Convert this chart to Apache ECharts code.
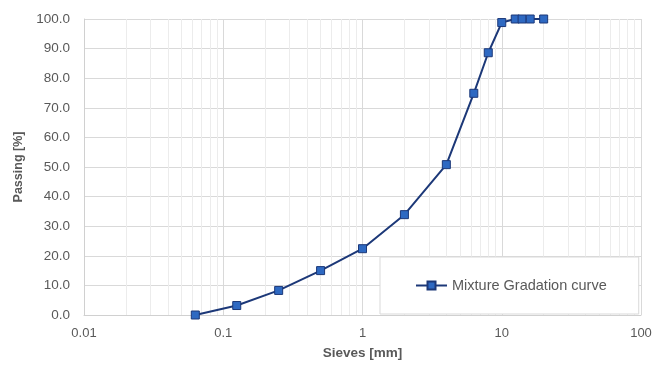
<!DOCTYPE html>
<html>
<head>
<meta charset="utf-8">
<script src="https://cdn.jsdelivr.net/npm/echarts@6/dist/echarts.min.js"></script>
<style>
  html, body { margin: 0; padding: 0; background: #fff; }
  #chart { width: 664px; height: 367px; }
</style>
</head>
<body>
<div id="chart"></div>
<script>
// Sieve sizes [mm] and cumulative passing [%]
const sieves = [0.063, 0.125, 0.25, 0.5, 1, 2, 4, 6.3, 8, 10, 12.5, 14, 16, 20];
const passing = [0.0, 3.2, 8.3, 15.0, 22.4, 33.9, 50.8, 74.9, 88.6, 98.8, 100, 100, 100, 100];
const seriesName = 'Mixture Gradation curve';

// Intermediate log-scale grid values (2..9 within each decade)
const minorGrid = [];
[0.01, 0.1, 1, 10].forEach(function (d) {
  for (let k = 2; k <= 9; k++) minorGrid.push(+(d * k).toPrecision(3));
});

const textColor = '#595959';
const font = 'Liberation Sans';

const chart = echarts.init(document.getElementById('chart'));
chart.setOption({
  animation: false,
  textStyle: { fontFamily: font },
  grid: { left: 84, right: 23, top: 19, bottom: 52 },
  legend: {
    data: [{ name: seriesName }],
    left: 380,
    top: 257,
    z: 10,
    padding: [21, 32, 21, 35],
    itemWidth: 31,
    itemHeight: 10,
    itemGap: 5,
    backgroundColor: '#ffffff',
    borderColor: '#d9d9d9',
    borderWidth: 1,
    textStyle: { color: textColor, fontSize: 14.5, fontFamily: font }
  },
  xAxis: {
    type: 'log',
    logBase: 10,
    min: 0.01,
    max: 100,
    name: 'Sieves [mm]',
    nameLocation: 'middle',
    nameGap: 31,
    nameTextStyle: { color: textColor, fontWeight: 'bold', fontSize: 13.5, fontFamily: font },
    axisLine: { show: true, lineStyle: { color: '#d0d0d0', width: 1 } },
    axisTick: { show: false },
    axisLabel: {
      color: textColor, fontSize: 13, margin: 12,
      formatter: function (v) { return String(+v.toPrecision(3)); }
    },
    splitLine: { show: true, lineStyle: { color: '#d9d9d9', width: 1 } },
    minorTick: { show: false },
    minorSplitLine: { show: false }
  },
  yAxis: {
    type: 'value',
    min: 0,
    max: 100,
    interval: 10,
    name: 'Passing [%]',
    nameLocation: 'middle',
    nameGap: 59,
    nameTextStyle: { color: textColor, fontWeight: 'bold', fontSize: 12.5, fontFamily: font },
    axisLine: { show: true, lineStyle: { color: '#d0d0d0', width: 1 } },
    axisTick: { show: false },
    axisLabel: {
      color: textColor, fontSize: 13.5, margin: 14,
      formatter: function (v) { return v.toFixed(1); }
    },
    splitLine: { show: true, lineStyle: { color: '#d9d9d9', width: 1 } }
  },
  series: [
    {
      // minor vertical grid lines at 2..9 × each decade
      type: 'line',
      data: [],
      silent: true,
      z: 0,
      markLine: {
        silent: true,
        z: 0,
        symbol: ['none', 'none'],
        label: { show: false },
        emphasis: { disabled: true },
        lineStyle: { color: '#ececec', width: 1, type: 'solid' },
        animation: false,
        data: minorGrid.map(function (v) { return { xAxis: v }; })
      }
    },
    {
      name: seriesName,
      type: 'line',
      z: 3,
      data: sieves.map(function (s, i) { return [s, passing[i]]; }),
      symbol: 'rect',
      symbolSize: 8,
      lineStyle: { color: '#1c3878', width: 2 },
      itemStyle: { color: '#2e69c2', borderColor: '#1c3878', borderWidth: 1 }
    }
  ]
});
</script>
</body>
</html>
